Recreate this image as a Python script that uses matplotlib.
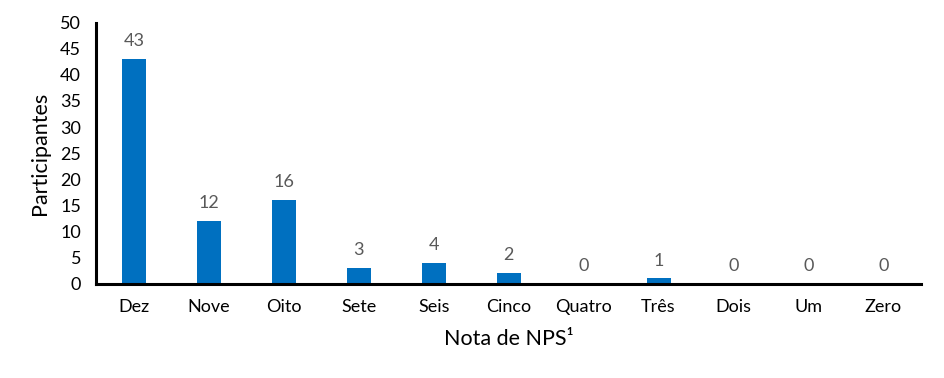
import matplotlib.pyplot as plt
import numpy as np

# dados
categorias = ['Dez', 'Nove', 'Oito', 'Sete', 'Seis', 'Cinco',
              'Quatro', 'Três', 'Dois', 'Um', 'Zero']
participantes = [43, 12, 16, 3, 4, 2, 0, 1, 0, 0, 0]
yticks = [0, 5, 10, 15, 20, 25, 30, 35, 40, 45, 50]

plt.rcParams['font.family'] = ['Lato', 'DejaVu Sans']

fig = plt.figure(figsize=(9.45, 3.78), dpi=100)
ax = fig.add_axes([0.102, 0.25, 0.8725, 0.69])

x = np.arange(len(categorias))
barras = ax.bar(x, participantes, width=0.32, color='#0070C0')

for xi, v in zip(x, participantes):
    ax.annotate(str(v), (xi, v), xytext=(0, 7), textcoords='offset points',
                ha='center', va='bottom', fontsize=13, color='#595959')

ax.set_xlim(-0.5, len(categorias) - 0.5)
ax.set_ylim(0, 50)
ax.set_yticks(yticks)
ax.set_xticks(x)
ax.set_xticklabels(categorias)
ax.tick_params(axis='both', length=0, labelsize=13, pad=11, colors='black')

for lado in ['top', 'right']:
    ax.spines[lado].set_visible(False)
for lado in ['left', 'bottom']:
    ax.spines[lado].set_linewidth(2.2)
    ax.spines[lado].set_color('black')

ax.set_ylabel('Participantes', fontsize=15.5, labelpad=7)
ax.set_xlabel('Nota de NPS¹', fontsize=15.5, labelpad=10)

fig.savefig('out.png', dpi=100)
